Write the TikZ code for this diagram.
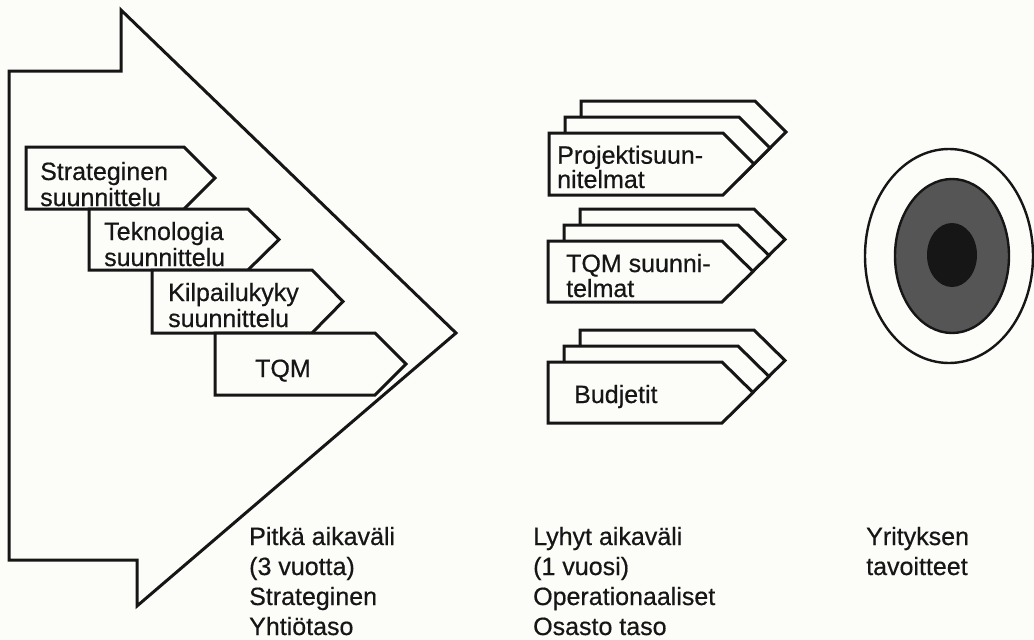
\documentclass[tikz,border=0pt]{standalone}
\usepackage{fontspec}
\setmainfont{Liberation Sans}
\newfontfamily\labelfont{Liberation Sans}[FakeBold=0.5]
\definecolor{ink}{HTML}{161616}
\definecolor{paper}{HTML}{FCFCF9}
\definecolor{stipple}{HTML}{555555}
% tag-shaped box: left x, top y, width up to the shoulder, height
\newcommand\tagpath[4]{(#1,#2) -- ++(#3,0) -- ++(31,{#4/2}) -- ++(-31,{#4/2}) -- ++(-#3,0) -- cycle}
% three stacked tag boxes, back to front
\newcommand\tagstack[4]{%
  \draw[tagbox] \tagpath{#1+32}{#2-32}{#3}{#4};
  \draw[tagbox] \tagpath{#1+16}{#2-16}{#3}{#4};
  \draw[tagbox] \tagpath{#1}{#2}{#3}{#4};}
\begin{document}
\begin{tikzpicture}[x=1pt,y=-1pt,
  outline/.style={draw=ink, line width=3pt, line join=miter},
  tagbox/.style={outline, fill=paper},
  % multi-line labels are placed by the baseline of their last line
  lbl/.style={inner sep=0pt, anchor=base west, align=left, text=ink,
    font=\labelfont\fontsize{25}{26}\selectfont},
  note/.style={lbl, font=\labelfont\fontsize{25}{30}\selectfont}]
\fill[paper] (0,0) rectangle (1034,640);
\useasboundingbox (0,0) rectangle (1034,640);

% long-term frame arrow
\draw[outline, fill=paper] (121,10) -- (121,71) -- (9,71) -- (9,560)
  -- (137,560) -- (137,606) -- (456,333) -- cycle;

% long-term plans
\draw[tagbox] \tagpath{26}{147}{158}{62};
\draw[tagbox] \tagpath{89}{209}{159}{61};
\draw[tagbox] \tagpath{152}{270}{160}{63};
\draw[tagbox] \tagpath{215}{333}{160}{62};
\node[lbl] (strat) at (40,206) {Strateginen\\suunnittelu};
\node[lbl] (tekno) at (104,266) {Teknologia\\suunnittelu};
\node[lbl] (kilp)  at (168,327) {Kilpailukyky\\suunnittelu};
\node[lbl] (tqm)   at (255,377) {TQM};

% short-term plans
\tagstack{549}{133}{174}{62}
\tagstack{548}{241}{174}{61}
\tagstack{548}{362}{174}{61}
\node[lbl, font=\labelfont\fontsize{25}{22}\selectfont] (proj) at (557,188) {Projektisuun-\\nitelmat};
\node[lbl, font=\labelfont\fontsize{25}{25}\selectfont] (tqms) at (566,297) {TQM suunni-\\telmat};
\node[lbl] (budj) at (574,403) {Budjetit};

% target
\draw[outline, line width=2.4pt] (949,256) ellipse [x radius=84, y radius=107];
\draw[outline, line width=2.4pt, fill=stipple] (952,256) ellipse [x radius=57, y radius=77];
\fill[ink] (952,255) ellipse [x radius=25, y radius=32];

% captions
\node[note] (pitka) at (249,635) {Pitkä aikaväli\\(3 vuotta)\\Strateginen\\Yhtiötaso};
\node[note] (lyhyt) at (533,635) {Lyhyt aikaväli\\(1 vuosi)\\Operationaaliset\\Osasto taso};
\node[note] (tavoite) at (866,575) {Yrityksen\\tavoitteet};
\end{tikzpicture}
\end{document}
